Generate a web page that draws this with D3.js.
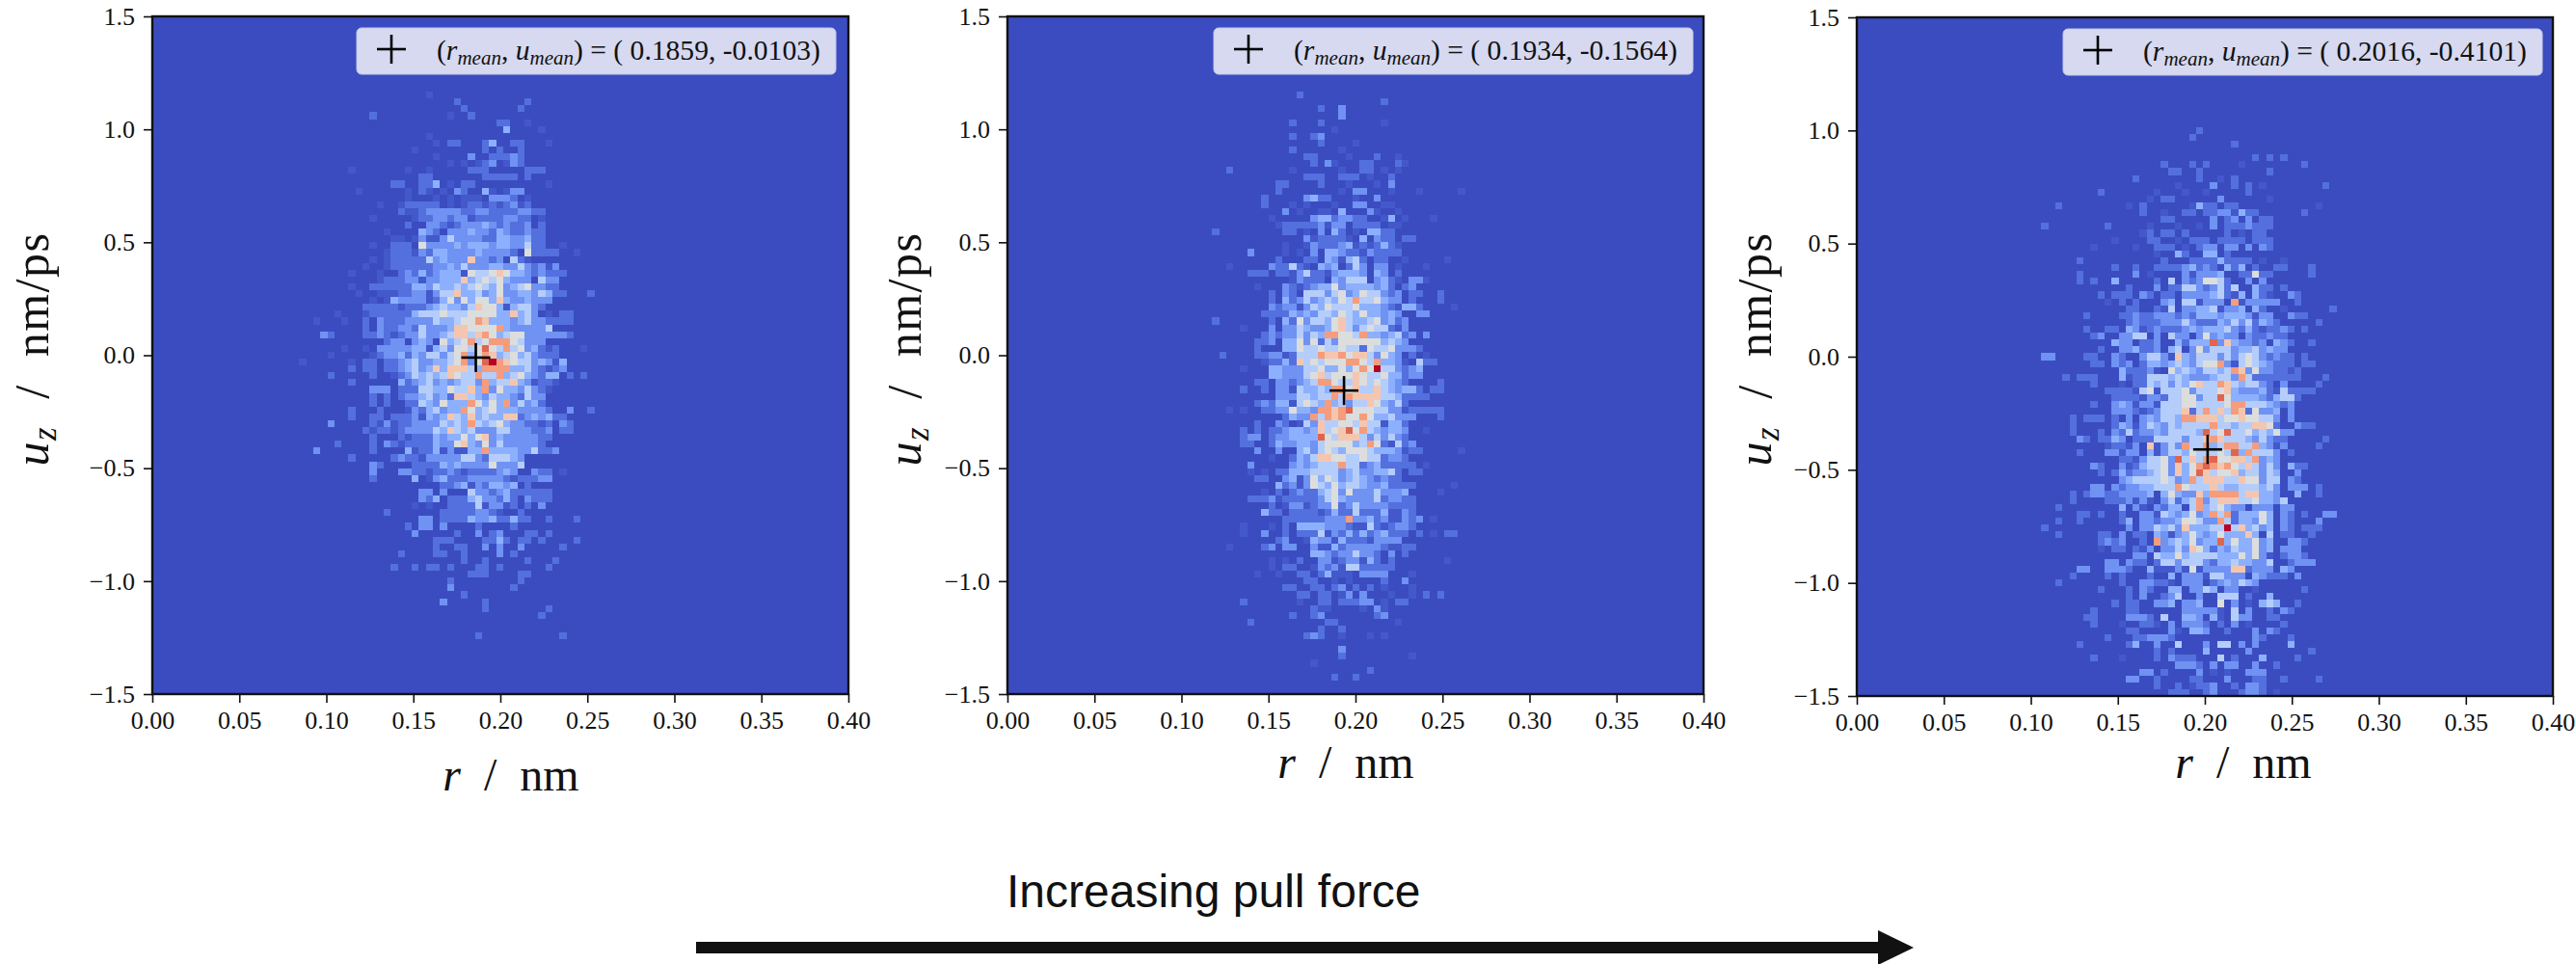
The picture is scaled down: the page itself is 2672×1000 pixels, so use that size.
<!DOCTYPE html>
<html><head><meta charset="utf-8">
<style>html,body{margin:0;padding:0;background:#fff}svg{display:block}text{fill:#111;white-space:pre}</style>
<script src="https://cdn.jsdelivr.net/npm/d3@7"></script>
</head><body><svg id="c" width="2672" height="1000"></svg>
<script>
// Rows of the 99x99 histograms: [row from top, first column after col 20, cell classes]
const rows1=[[11,19,"1"],[12,23,"2.........2"],[13,24,"2.......2"],[14,11,"2..........1..2"],[15,29,"22..1"],[16,30,"4....1"],[17,19,"1"],[18,20,"1.22...24..22...1"],[19,17,"1.........2.2..2"],[20,20,"1....3..22232"],[21,22,"1.1.123.132"],[22,8,"1.......1..1.....222.....222"],[23,18,"22.......22222.2"],[24,14,"22..224.1.22..........1"],[25,9,"1......1.21.1.32..41.133"],[26,16,"1...1.1.111.3332.1"],[27,12,"1..122222.1.1221212312"],[28,15,"211233333223322223322"],[29,11,"1.....12233233122223322.1"],[30,16,"2..332123334323223.2"],[31,13,"1....432.33343324322322"],[32,14,"11.1311353333224433422"],[33,11,"1..222.633334344434433522..1"],[34,13,"1222132443333433332.62222..1"],[35,11,"1.12222253433373323.521"],[36,10,"1..1222222334353334433532313"],[37,8,"1...1..232423444165567644323222"],[38,12,"1222331334447456564333.533"],[39,8,"1..222222443544545654634563322"],[40,9,"1..111223313557445346334435422...2"],[41,11,"1.143333124636466474334333"],[42,10,"2222212223454435766414553 2".replace(/ /g,"")],[43,6,"1...1222222455565556666447453.1.22"],[44,3,"1...1..2.3222333354456687444345332222"],[45,10,"2.3223325333477666684333335"],[46,4,"32....223212335334577578645663333332"],[47,13,"233.343.645685688865333"],[48,7,"1..1.33333441453665696585634212...1"],[49,5,"1.....123342435535684687456453222"],[50,1,"1......1.22.223453344568369x8765534314"],[51,8,"2.22.22345347477754888844532123"],[52,5,"2.....2..123545457655855845643244.2.2"],[53,8,"2......42345343455384557431221"],[54,11,"333.2225544655748364435321"],[55,11,"2.2.233453427754354432533"],[56,11,"2.2..22543644486464835342"],[57,8,"2...2...132453448645644433332..3..2"],[58,8,"2..22.2223143475474544772343422"],[59,5,"3.....21312233335454854564332212.32"],[60,10,"212212333354754533355333223.22"],[61,11,"2...2122243446467343333322"],[62,6,"2....2.32122224336743635333332"],[63,3,"3.......2....4122413114484444335223"],[64,8,"2.....2322133333553255543"],[65,11,"32....2222434333363335"],[66,11,"3...33221223212222343..322.1"],[67,11,"2.....4.134222333332122233"],[68,21,"22341324434.2"],[69,18,"33.3...533234222222"],[70,18,"324.2224533242.3222"],[71,17,"1.1..2222513312.2.3"],[72,13,"2.......222223321..2"],[73,18,"33.2222433422422..2...2"],[74,16,"2.33.3....2....2"],[75,17,"3.....2..3.23...22.2"],[76,20,"222....2242.22.2....2"],[77,20,"2..22..3.3..3.....2"],[78,15,"2....22..2....3.2"],[79,24,"2..2.....2...2"],[80,14,"2..2.22.2...22.2......2"],[81,25,"222....22"],[82,22,"2.........2"],[83,22,"3........2"],[84,24,"2"],[85,21,"3.....2"],[86,27,"2........2"],[87,35,"2"],[90,26,"2...........2"]];
const rows2=[[11,22,"2"],[12,34,"2"],[13,25,"2..3"],[14,28,"3"],[15,21,"2...2........1"],[16,27,"1"],[17,21,"2..23"],[18,25,"2....1"],[19,21,"2......1"],[20,23,"22....1...2..1"],[21,24,"2.31...22...21"],[22,12,"2........1......1..22.1.1"],[23,23,"222..222.1..2"],[24,19,"22....2...1...1.3"],[25,19,"2........1.33...1...1.....1"],[26,17,"2.....3422...1..3"],[27,17,"2...1.1...1..33..11"],[28,20,"3.1..11.4...31..1"],[29,18,"1.....34423322..14.1...1"],[30,19,"1222223133.2222.11"],[31,10,"2.........22.1.3.42.1.4422"],[32,23,"3122221.4.322.22"],[33,20,"1..13222341212421"],[34,15,"3....1.1.3.44322132222"],[35,19,"2...22.431452.22..1.....1"],[36,12,"1.....322521.434.253.33.1...1"],[37,15,"222.2213522134443.43.2"],[38,21,"13222.43555.3421.331"],[39,16,"1...3212344634444342.23"],[40,18,"2.32.55535634655323.22..2"],[41,18,"2.42353454658556433.2...2"],[42,18,"3233135465556444321442....1"],[43,17,"22224343554654644343..33"],[44,10,"2.......2.426355467544563423"],[45,14,"1...3.335433467535655213"],[46,17,"2323353548866584434523.3"],[47,16,"223.446362536666664543"],[48,16,"2...44655655655265563332"],[49,11,"2....223312555877867753643.2.1"],[50,17,"122427565666886584431.522"],[51,14,"1...443335564464686x553234"],[52,18,"4433356756667655644233"],[53,16,"22.3323458865576565432....2"],[54,14,"2..2.331544548867557543442.22"],[55,19,"3335545585877775542222"],[56,16,"2324415654845355764352"],[57,12,"1.1..22336443887896665533122222"],[58,20,"2433858786686445333...2"],[59,16,"2..32.1537556657551442"],[60,14,"2.2.22344347567968543443..1"],[61,14,"233.23344449657775353532"],[62,14,"22..243344356666458621523"],[63,16,"3..3..453565466654443122.....1"],[64,18,"1..24357766556552332"],[65,15,"3.....343455585523422222.1"],[66,15,"1.1.224445555345334452.22"],[67,16,"22..34136465345432322"],[68,19,"42313654645543342222.....1"],[69,17,"1.2.23224563633353334....1"],[70,15,"222312222235643333523322"],[71,18,"2.1331233623533332222"],[72,17,"422.222212422522241132"],[73,20,"22222233383342311323.1"],[74,14,"1...1.2.44443332115212332"],[75,14,"1..3..2.2225132424234222.2.1.22"],[76,19,"23..14331422213333"],[77,12,"1....23.33..311423333321122"],[78,24,"4432335332.3.2"],[79,18,"1.1.2..331233142.2.......1"],[80,18,"1.22..132315522222"],[81,16,"1..1..22.24111.3333...1"],[82,23,"22..1.1....2..3"],[83,20,"22..22.23.2.2.1...1"],[84,22,"22.22.13.3...1..1.2.2"],[85,14,"2.......1..22.22233.1.22"],[86,24,"211....1.31"],[87,21,"2..23.......23"],[88,15,"2..........22........1"],[89,25,"2..2"],[90,23,"232..1...1.1"],[92,28,"3"],[93,28,"2.........1"],[94,24,"1"],[95,32,"2"],[96,27,"2..2"]];
const rows3=[[16,29,"2"],[17,28,"2"],[18,34,"2"],[20,37,"2.2.2"],[21,24,"2...2.2....1........2"],[22,25,"22..2.........2"],[23,20,"2........2..1.2"],[24,26,"1....3..2.2.1........2"],[25,15,"2.......1...1..1.....2"],[26,22,"1.22......3......1"],[27,9,"2.........1.2......1422.22...........1"],[28,21,"2..1..22.22331422......2"],[29,24,"22.....3.23.3.22"],[30,7,"2........2.....1...1..1.3.2223222"],[31,21,"12.22.2.....2.1.22"],[32,17,"1....22..1.222.2222.222"],[33,14,"1.....1..222.1.233.33.3.32"],[34,23,"1..42..44.2"],[35,12,"2...........2...222242222.1..1"],[36,17,"2..2..222234232.424.2..22...2"],[37,12,"2.......3.1....313334..22622.....2"],[38,12,"2.2..4.....2.5.3236652..3.3"],[39,19,"2...3.2255323525..422.2"],[40,15,"2.222.32.22.333345214.421..32"],[41,16,"1.2.2...34.551333.8133333..2"],[42,19,"22..215.334451334.42..1......2"],[43,13,"2....2232233323244434443133..322"],[44,19,"2322233353222435352432.....2"],[45,13,"2..22.431232223434445324212232.2"],[46,14,"23..3355.3.533.363433.322322"],[47,17,"433.223..4244493743323.432..2"],[48,15,"2..334223.45.36355534453433"],[49,7,"33....22..32..3553174355535356532322.2"],[50,14,"22.323.2443454356683156543222.22"],[51,18,"422231.6454355458736332212"],[52,10,"2.222...41225554543334553852222222...2"],[53,14,"2...1.22545354675587545532.3....2"],[54,16,"222215615556355567433342152222"],[55,17,"222213325566355964444324552"],[56,14,"2..34313315556655556885554323"],[57,17,"333212355572585758726334.3"],[58,11,"2.222.2.3.34355488777566766553.3"],[59,11,"2.....243135435455558554557762..322"],[60,11,"2...2.32523343555549569556454633"],[61,12,"32.2243.2225555355787555435322.....2"],[62,16,"12213.71353855845885584313....2"],[63,12,"2...33133.4135546555659485553.2"],[64,18,"22135563957589667758343"],[65,14,"32..31245563746898786575353.422"],[66,15,"2.242334563746975667455354..3"],[67,18,"34555565348577755766355.32"],[68,14,"33.323344555865557544555453.333.2"],[69,11,"2.2332233334.46433748888577443..4..2"],[70,11,"2....2223131.352458357775564435"],[71,9,"2........4.31.3244.58456433.333.33"],[72,12,"22.2..2..3315434634858244464.32.2..33"],[73,9,"2..2.....24.3323346653385244364.32...3"],[74,7,"2...........3.335453744455x574534.32.222"],[75,9,"2.....22.3.22.431346434644474.5.22..2"],[76,15,"2323..2.83454634494644634..332"],[77,15,"1.22.213.3353764243544634.333"],[78,20,"33.54464555544464631.2332"],[79,16,"33.322.25535553244544335..2333"],[80,12,"33..3332..411131613333772333.43"],[81,11,"2....2.2...2..4.333155333.43222.3"],[82,9,"2........2..33221.333.2343543"],[83,15,"2...2.32..44.3354.33..1......2"],[84,19,"2.3..235..3..555.2..4"],[85,17,"2.22..334.334..6.3.1.454..2"],[86,14,"2....22......333331.5.3..2.32"],[87,13,"22....3332.5..443.41.533..22"],[88,14,"2...1..221.3.3332.2.3.1....2"],[89,19,"22....31.443..2...3.32"],[90,16,"2...223332...........32...2"],[91,12,"2......24..3..5...3.55.3.3....4"],[92,23,"2.2....4.....3........2"],[93,14,"2...1....2.3222...5.2...4....2"],[94,26,"3332.3.33..3..2"],[95,21,"33.2....3.1.1..333"],[96,19,"33..2....22...3...22..2....2"],[97,23,"2..2.1223..2.332"],[98,25,"222..23...2332.1"]];
const rMeans=[0.1859,0.1934,0.2016];
const uMeans=[-0.0103,-0.1564,-0.4101];
const xTicks=[0,0.05,0.1,0.15,0.2,0.25,0.3,0.35,0.4];
const yTicks=[-1.5,-1,-0.5,0,0.5,1,1.5];
const classColors=["#3b4cc0","#4358cb","#5370de","#6f92f3","#8db0fe","#b5cdfa","#dcdddd","#f4c6af","#f59c7d","#e0654f","#b40426"];

const svg=d3.select("#c");
const SERIF="'Liberation Serif','DejaVu Serif',serif";
const color=d3.scaleLinear().domain(d3.range(11)).range(classColors).interpolate(d3.interpolateRgb);
const layout=[
 {left:158,right:880,top:17,bottom:720,yl:42,shift:-0.1,xlab:530,xlabY:820,rows:rows1},
 {left:1045,right:1767,top:17,bottom:720,yl:947,shift:-0.9,xlab:1396,xlabY:807,rows:rows2},
 {left:1926,right:2648,top:18,bottom:722,yl:1829,shift:-0.76,xlab:2327,xlabY:807,rows:rows3}];
layout.forEach((p,k)=>{
 const x=d3.scaleLinear().domain([0,0.4]).range([p.left,p.right]);
 const y=d3.scaleLinear().domain([-1.5,1.5]).range([p.bottom,p.top]);
 const g=svg.append("g");
 g.append("rect").attr("x",x(0)).attr("y",y(1.5)).attr("width",x(0.4)-x(0)).attr("height",y(-1.5)-y(1.5)).attr("fill",classColors[0]);
 const dr=0.4/99,du=3/99;
 const cells=[];
 p.rows.forEach(([row,start,s])=>{
  [...s].forEach((ch,j)=>{ if(ch==="."||ch===" ")return;
   cells.push({col:20+start+j,row,v:ch==="x"?10:+ch}); });
 });
 g.append("g").attr("shape-rendering","crispEdges").selectAll("rect").data(cells).join("rect")
  .attr("x",d=>x((d.col+p.shift)*dr)).attr("y",d=>y(1.5-d.row*du))
  .attr("width",x(dr)-x(0)).attr("height",y(0)-y(du))
  .attr("fill",d=>color(d.v));
 const ax=d3.axisBottom(x).tickValues(xTicks).tickFormat(d3.format(".2f")).tickSize(9).tickPadding(9);
 const ay=d3.axisLeft(y).tickValues(yTicks).tickFormat(d=>d3.format(".1f")(d).replace("-","\u2212")).tickSize(9).tickPadding(9);
 [g.append("g").attr("transform",`translate(0,${p.bottom})`).call(ax),
  g.append("g").attr("transform",`translate(${p.left},0)`).call(ay)].forEach(a=>{
   a.selectAll("text").attr("font-family",SERIF).attr("font-size",26).attr("fill","#111");
   a.selectAll("line").attr("stroke","#111").attr("stroke-width",1.6);
   a.select(".domain").remove();
 });
 g.append("rect").attr("x",x(0)).attr("y",y(1.5)).attr("width",x(0.4)-x(0)).attr("height",y(-1.5)-y(1.5)).attr("fill","none").attr("stroke","#111").attr("stroke-width",2.4);
 const xl=g.append("text").attr("x",p.xlab).attr("y",p.xlabY).attr("text-anchor","middle").attr("font-family",SERIF).attr("font-size",48);
 xl.append("tspan").attr("font-style","italic").text("r");
 xl.append("tspan").text("  /  nm");
 const yl=g.append("text").attr("transform",`translate(${p.yl},362) rotate(-90)`).attr("text-anchor","middle").attr("font-family",SERIF).attr("font-size",50).attr("letter-spacing",1.5).attr("dy",8);
 yl.append("tspan").attr("font-style","italic").text("u");
 yl.append("tspan").attr("font-style","italic").attr("font-size",35).attr("dy",8).text("z");
 yl.append("tspan").attr("dy",-8).text("  /  nm/ps");
 const bx=p.left+(k===0?212:214);
 const by=p.top+12;
 g.append("rect").attr("x",bx).attr("y",by).attr("width",497).attr("height",48).attr("rx",5).attr("fill","#d6d9f0").attr("stroke","#c4c8e6").attr("stroke-width",1);
 const cross=(cx,cy,c)=>{
  const r=15;
  g.append("line").attr("x1",cx-r).attr("x2",cx+r).attr("y1",cy).attr("y2",cy).attr("stroke",c).attr("stroke-width",2.6);
  g.append("line").attr("x1",cx).attr("x2",cx).attr("y1",cy-r).attr("y2",cy+r).attr("stroke",c).attr("stroke-width",2.6);
 };
 cross(bx+36,by+22,"#000");
 cross(x(rMeans[k]),y(uMeans[k]),"#000");
 const t=g.append("text").attr("x",bx+83).attr("y",by+33).attr("font-family",SERIF).attr("font-size",29.6);
 t.append("tspan").text("(");
 t.append("tspan").attr("font-style","italic").text("r");
 t.append("tspan").attr("font-style","italic").attr("font-size",21).attr("dy",5).text("mean");
 t.append("tspan").attr("dy",-5).text(", ");
 t.append("tspan").attr("font-style","italic").text("u");
 t.append("tspan").attr("font-style","italic").attr("font-size",21).attr("dy",5).text("mean");
 t.append("tspan").attr("dy",-5).text(`) = ( ${rMeans[k].toFixed(4)}, ${uMeans[k].toFixed(4)})`);
});
svg.append("text").attr("x",1044).attr("y",941).attr("font-family","'Liberation Sans',Arial,sans-serif").attr("font-size",48).attr("fill","#111").text("Increasing pull force");
svg.append("path").attr("d","M722,977H1948V965L1985,983L1948,1001V989H722Z").attr("fill","#111");
</script></body></html>
